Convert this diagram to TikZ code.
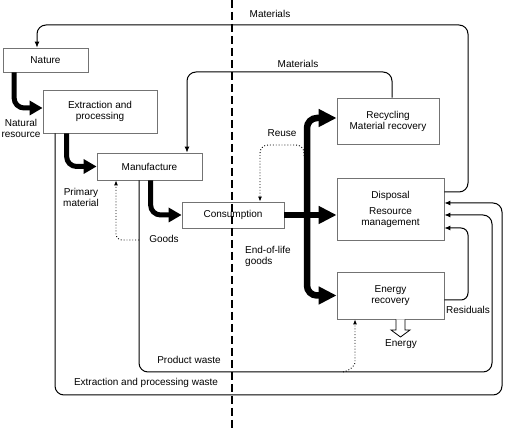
\documentclass[tikz,border=0pt]{standalone}
\usepackage{fontspec}
\setmainfont{Liberation Sans}
\usetikzlibrary{arrows.meta}
\begin{document}
\begin{tikzpicture}[x=1pt,y=-1pt,
  box/.style={draw=black!55, line width=0.8pt, fill=white, align=center, inner sep=0pt, font=\fontsize{10}{11}\selectfont},
  lab/.style={align=center, inner sep=0pt, font=\fontsize{10}{11}\selectfont},
  conn/.style={line width=1pt, rounded corners=9pt, -{Latex[length=6pt,width=5pt]}},
  dotconn/.style={line width=0.9pt, dotted, rounded corners=8pt, -{Latex[length=5pt,width=4pt]}},
  bigarrow/.style={line width=5pt, rounded corners=10pt, -{Triangle[length=13pt,width=14pt]}},
  hugearrow/.style={line width=6.5pt, rounded corners=10pt, -{Triangle[length=18pt,width=17pt]}}
]
\useasboundingbox (0,0) rectangle (507,430);

% boxes
\node[box, minimum width=85pt, minimum height=24pt] (nature) at (45.5,60) {Nature};
\node[box, minimum width=114pt, minimum height=43pt] (extr) at (100,111.5) {Extraction and\\processing};
\node[box, minimum width=105pt, minimum height=27pt] (manuf) at (149.5,166.5) {Manufacture};
\node[box, minimum width=102pt, minimum height=26pt] (cons) at (233,215) {Consumption};
\node[box, minimum width=102pt, minimum height=46pt] (recyc) at (388,121) {Recycling\\Material recovery};
\node[box, minimum width=107pt, minimum height=62pt] (disp) at (390.5,209) {Disposal\\[5pt]Resource\\management};
\node[box, minimum width=107pt, minimum height=47pt] (energy) at (390.5,295.5) {Energy\\recovery};

% labels
\node[lab] (lnat) at (21,128) {Natural\\resource};
\node[lab] (lprim) at (81,197) {Primary\\material};
\node[lab] (lgoods) at (164,239) {Goods};
\node[lab, align=left, anchor=west] (leol) at (245,256) {End-of-life\\goods};
\node[lab] (lreuse) at (282,133) {Reuse};
\node[lab] (lres) at (468,310) {Residuals};
\node[lab] (lenergy) at (401,344) {Energy};
\node[lab] (lpw) at (189,360) {Product waste};
\node[lab] (lepw) at (146,383) {Extraction and processing waste};
\node[lab] (lmat1) at (270,14) {Materials};
\node[lab] (lmat2) at (298,64) {Materials};

% thin connectors
\draw[conn] ([yshift=17pt]disp.east) -| (468,25) -| ([xshift=-8.5pt]nature.north);
\draw[conn] ([xshift=4pt]recyc.north) |- (187,72) -- ([xshift=37.5pt]manuf.north);
\draw[conn] ([xshift=-10.5pt]manuf.south) |- (492,372) |- ([yshift=-6pt]disp.east);
\draw[conn] ([xshift=-45pt]extr.south) |- (502,395) |- ([yshift=6pt]disp.east);
\draw[conn, rounded corners=7pt] ([yshift=-4.5pt]energy.east) -- (468,300) |- ([yshift=-19pt]disp.east);

% dotted connectors
\coordinate (d1) at (139,240);
\coordinate (d2) at (304,156);
\coordinate (d3) at (343,372);
\draw[dotconn, rounded corners=6pt] (d1) -| ([xshift=-33.5pt]manuf.south);
\draw[dotconn] (d2) |- (260,145) -- ([xshift=27pt]cons.north);
\draw[dotconn] (d3) .. controls (352,370) and (355,364) .. (355,355) -- ([xshift=-35.5pt]energy.south);

% thick flows
\draw[bigarrow] ([xshift=11.5pt]nature.south west) |- ([yshift=3.5pt]extr.west);
\draw[bigarrow] ([xshift=24pt]extr.south west) |- (manuf.west);
\draw[bigarrow] ([xshift=54pt]manuf.south west) |- (cons.west);
\draw[hugearrow] (cons.east) -- (disp.west |- cons.east);
\coordinate (jn) at (307,215);
\draw[hugearrow] (jn) |- ([yshift=3pt]recyc.west);
\draw[hugearrow] (jn) |- (energy.west);

% hollow energy arrow
\draw[line width=0.8pt, fill=white] (396,319.5) -- (396,330) -- (391,330) -- (400.5,337) -- (410,330) -- (405,330) -- (405,319.5);

% boundary
\draw[line width=2pt, dash pattern=on 8pt off 4pt] (232,0) -- (232,430);
\end{tikzpicture}
\end{document}
